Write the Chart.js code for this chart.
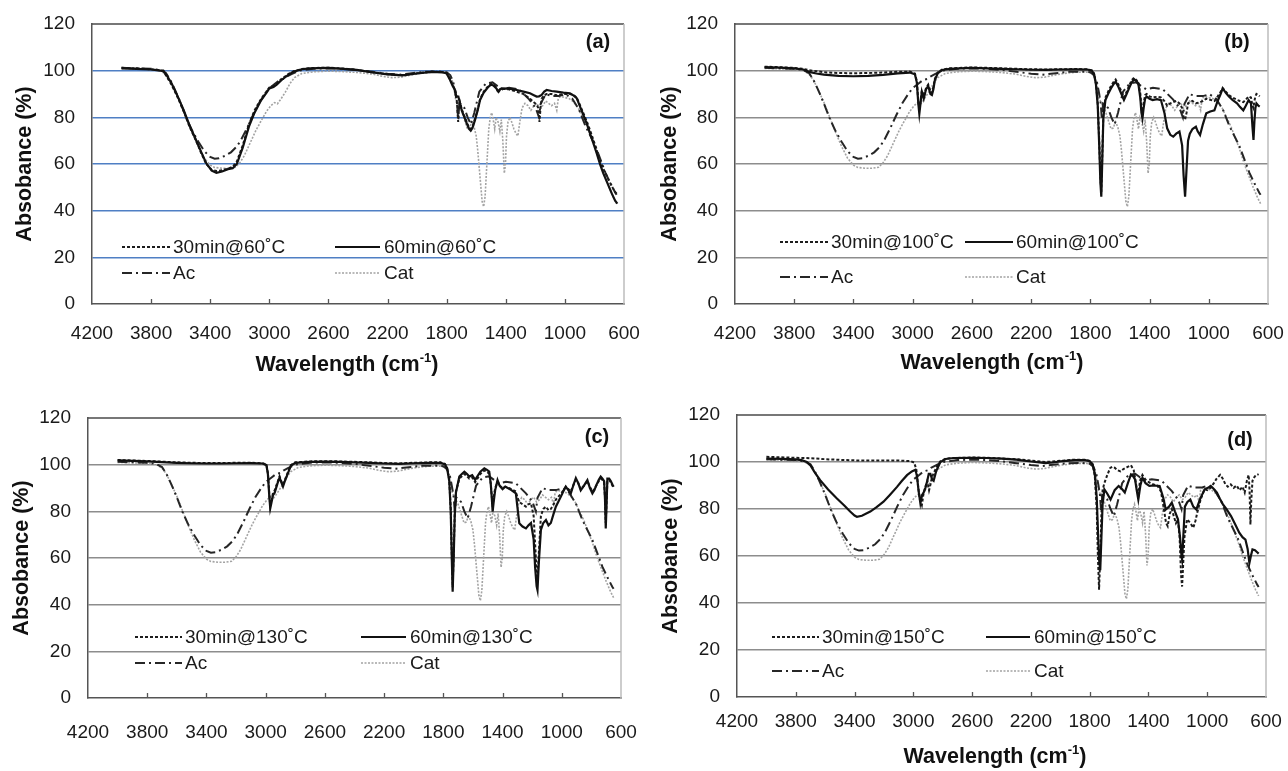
<!DOCTYPE html>
<html><head><meta charset="utf-8">
<script src="https://cdn.jsdelivr.net/npm/chart.js@4.4.1/dist/chart.umd.min.js"></script>
<style>
html,body{margin:0;padding:0;background:#fff;width:1288px;height:771px;overflow:hidden}
.p{position:absolute}
</style></head><body>
<div class="p" style="left:0;top:0;width:644px;height:385px"><canvas id="ca" width="644" height="385"></canvas></div>
<div class="p" style="left:644px;top:0;width:644px;height:385px"><canvas id="cb" width="644" height="385"></canvas></div>
<div class="p" style="left:0;top:385px;width:644px;height:386px"><canvas id="cc" width="644" height="386"></canvas></div>
<div class="p" style="left:644px;top:385px;width:644px;height:386px"><canvas id="cd" width="644" height="386"></canvas></div>
<script>
// ---------- data (wavenumber cm-1, absorbance %) ----------
const X_TICKS = [4200,3800,3400,3000,2600,2200,1800,1400,1000,600];
const Y_TICKS = [0,20,40,60,80,100,120];
const TEMPS = ['60','100','130','150'];
const PANEL_LETTERS = ['(a)','(b)','(c)','(d)'];
const REF_LABELS = ['Ac','Cat'];

const AC = [[4000,101.2],[3900,101],[3800,100.8],[3740,100.3],[3700,99],[3670,96],[3640,92],[3600,86],[3560,79.5],[3520,74],[3480,69.5],[3440,65.5],[3400,63],[3370,62.3],[3340,62.5],[3300,63.5],[3260,65],[3220,67.5],[3190,70.5],[3150,75.5],[3110,81],[3070,86],[3030,90],[3000,92.5],[2960,94.5],[2930,96],[2900,96.5],[2880,97.5],[2850,98.5],[2800,100],[2700,100.8],[2600,101],[2500,100.8],[2400,100.3],[2300,99.5],[2200,98.7],[2120,98.3],[2050,98.8],[1950,99.5],[1850,99.6],[1800,99.3],[1775,98],[1755,95],[1740,90],[1730,86],[1722,79],[1714,86],[1703,85.6],[1680,84],[1658,80],[1636,77],[1613,82],[1579,91],[1535,94.5],[1490,95],[1456,93.4],[1422,92],[1377,92.7],[1310,92],[1242,87.7],[1198,84.1],[1175,80],[1164,85.8],[1130,89.9],[1085,89.1],[1040,89.1],[995,89.9],[950,88],[905,83.4],[861,76.3],[793,67.7],[726,56.3],[690,51.5],[659,47.7],[650,46.8]];

const CAT = [[4000,101],[3900,100.8],[3800,100.5],[3740,100],[3700,98.5],[3670,96],[3640,92],[3600,86.5],[3560,80],[3520,73.5],[3480,67.5],[3440,62.5],[3400,59.5],[3370,58.5],[3320,58.2],[3270,58.2],[3230,58.6],[3200,60.5],[3170,63.5],[3130,69],[3090,74.5],[3060,78],[3020,82.5],[2990,85],[2965,86.3],[2945,85.8],[2920,88],[2890,91],[2860,94.5],[2830,97],[2780,98.8],[2700,99.5],[2600,99.8],[2500,99.6],[2400,99.2],[2300,98.5],[2230,97.5],[2170,97],[2110,97.2],[2050,98],[1980,98.8],[1900,99.3],[1820,99.4],[1790,99],[1770,97.5],[1755,94],[1740,88],[1725,86],[1700,83],[1680,79],[1660,75],[1645,75.5],[1630,78],[1615,76],[1600,72],[1590,66],[1575,55],[1560,44],[1550,41.7],[1540,46],[1528,60],[1515,75],[1505,80],[1495,82],[1485,79],[1475,75],[1465,80],[1452,78],[1440,74],[1430,79],[1420,70],[1410,56],[1402,60],[1395,72],[1385,78],[1372,80],[1360,78],[1345,75],[1330,73],[1318,72],[1305,78],[1290,84],[1270,86],[1250,85],[1230,83],[1210,85],[1190,86],[1170,84],[1150,85],[1130,87],[1110,86],[1090,85],[1070,86],[1055,83],[1045,88],[1030,89],[1000,88.5],[970,88],[940,86.5],[910,84],[880,80],[850,76],[820,71],[790,66],[760,60],[730,55],[700,50],[670,45.5],[650,43]];

const A30 = [[4000,101.2],[3900,101],[3800,100.6],[3740,100.2],[3717,99.8],[3690,97],[3662,94],[3620,88.5],[3579,82.5],[3540,76],[3496,70],[3460,64.5],[3427,60],[3390,57.5],[3358,57],[3320,57.3],[3280,58],[3248,58.8],[3220,61],[3180,68],[3138,77],[3100,83],[3055,88],[3020,91],[3000,92.8],[2972,93.5],[2950,94.5],[2917,96.5],[2870,98.6],[2834,99.8],[2780,100.7],[2724,101.1],[2600,101.3],[2500,100.9],[2400,100.3],[2300,99.3],[2200,98.5],[2100,98.1],[2000,98.9],[1900,99.6],[1830,99.4],[1800,98.9],[1777,96.5],[1760,94],[1744,92],[1735,90],[1728,84],[1722,78],[1716,85],[1710,86.5],[1698,83.5],[1680,80.5],[1664,78],[1650,75.8],[1637,75],[1625,76],[1608,79.5],[1590,83.5],[1574,87.8],[1550,91],[1518,93.5],[1500,94.3],[1484,94],[1465,92.8],[1450,90.5],[1440,91.8],[1428,92.2],[1380,92],[1326,91],[1280,90],[1236,88],[1210,86.5],[1191,85.5],[1180,84],[1172,78],[1165,84],[1157,88],[1140,89.5],[1123,90],[1090,90],[1056,89.5],[1010,90],[966,90],[940,89.5],[920,88.5],[900,85.5],[875,81.8],[850,78],[830,74.5],[808,70.5],[785,66],[760,61],[740,58],[710,54],[683,50.5],[660,48],[645,47]];

const A60 = [[4000,101],[3900,100.8],[3800,100.5],[3740,100],[3717,100],[3690,97.5],[3662,94.6],[3620,89],[3579,83],[3540,76.5],[3496,70.3],[3460,65],[3427,60.3],[3390,57.2],[3358,56.2],[3320,56.8],[3280,57.8],[3248,58.2],[3220,60],[3180,67],[3138,76],[3100,82],[3055,87.4],[3020,90.5],[3000,92.4],[2972,93],[2950,94],[2917,96],[2870,98.3],[2834,99.6],[2780,100.6],[2724,101],[2600,101.2],[2500,100.8],[2400,100.2],[2300,99.2],[2200,98.4],[2100,98],[2000,98.8],[1900,99.5],[1830,99.3],[1800,98.8],[1777,96],[1760,93.5],[1744,91.7],[1735,89],[1721,88.9],[1710,86],[1698,83],[1680,80],[1664,77.4],[1650,75.2],[1637,74.3],[1625,75.5],[1608,78.9],[1590,83],[1574,87.4],[1550,90.5],[1518,93.1],[1500,94],[1484,93.7],[1465,92.5],[1450,91],[1440,92],[1428,92.4],[1380,92.3],[1326,91.7],[1280,91],[1236,90.3],[1210,89.5],[1191,88.9],[1175,89],[1157,89.6],[1140,91],[1123,91.7],[1090,91.3],[1056,91],[1010,90.6],[966,90.3],[940,89.3],[920,88.2],[900,85],[875,81],[850,77],[830,73.1],[808,69],[785,64.6],[760,59.5],[740,56],[710,51.5],[683,47.4],[660,44.3],[645,43]];

const B30 = [[4000,101.7],[3900,101.5],[3800,101.2],[3740,100.8],[3700,100.2],[3650,99.8],[3600,99.3],[3500,99],[3400,98.9],[3300,99],[3200,99.2],[3100,99.5],[3020,99.6],[2985,98.8],[2972,95.5],[2962,87],[2955,83],[2947,87],[2938,91.5],[2925,89],[2910,92.5],[2895,94],[2880,91],[2870,90.5],[2860,93],[2850,96.5],[2830,99.3],[2800,100.5],[2750,101],[2600,101.4],[2500,101.2],[2400,101],[2300,100.8],[2200,100.6],[2100,100.5],[2000,100.6],[1900,100.7],[1820,100.6],[1790,100.1],[1775,98.8],[1762,94.5],[1750,86],[1740,70],[1732,55],[1726,48],[1720,62],[1712,81],[1698,88.5],[1680,91],[1660,93.5],[1645,95],[1629,96.2],[1610,94],[1590,91],[1573,88.5],[1555,91],[1535,94],[1520,96],[1504,97],[1490,96],[1476,95],[1462,90],[1455,84],[1448,81.5],[1440,86],[1430,89.5],[1420,90],[1400,89],[1379,88.5],[1350,88.8],[1323,88.5],[1300,87],[1281,85],[1260,86],[1240,86.5],[1220,87],[1198,86],[1180,84],[1170,80],[1160,79],[1150,82],[1140,86],[1128,86.5],[1110,87],[1087,86],[1059,86.5],[1040,87],[1017,88],[990,87.5],[962,87],[940,89],[920,91],[906,92.5],[885,91],[864,89.5],[840,88.5],[809,87.5],[790,87],[767,86.5],[750,87.5],[731,89],[715,88.5],[705,85],[698,84],[692,87],[685,89],[678,90],[665,89.5],[656,89]];

const B60 = [[4000,101.5],[3900,101.3],[3800,101],[3740,100.5],[3700,99.5],[3650,98.8],[3600,98.3],[3500,97.8],[3400,97.6],[3300,97.8],[3200,98.2],[3100,98.8],[3020,99.2],[2985,98.5],[2972,95],[2962,86],[2955,81.5],[2947,86],[2938,91],[2925,88],[2910,92],[2895,93.5],[2880,90],[2870,89.6],[2860,92],[2850,96],[2830,99],[2800,100.3],[2750,100.8],[2600,101.2],[2500,101],[2400,100.8],[2300,100.6],[2200,100.4],[2100,100.3],[2000,100.5],[1900,100.6],[1820,100.5],[1790,100],[1775,98.5],[1762,94],[1750,85],[1740,68],[1732,52],[1726,46],[1720,60],[1712,80],[1698,87.4],[1680,90],[1660,92.5],[1645,94],[1629,95.3],[1610,93],[1590,90],[1573,87.4],[1555,90],[1535,93],[1520,95],[1504,96.3],[1490,95.5],[1476,94.6],[1462,88],[1455,82],[1448,79.6],[1440,84],[1430,88],[1420,88.9],[1400,88],[1379,87.4],[1350,87.8],[1323,87.4],[1300,82],[1281,75.3],[1260,72.5],[1240,71.7],[1220,73],[1198,73.9],[1180,68],[1170,55],[1160,46],[1150,58],[1140,70],[1128,73],[1110,75],[1087,76],[1075,74],[1059,72.4],[1040,77],[1017,81.7],[990,82.5],[962,83],[940,87],[920,90],[906,92.4],[885,90.5],[864,88.9],[840,87.5],[809,86],[790,84.5],[767,83],[750,85],[731,87.4],[715,86],[705,76],[698,70.3],[692,78],[685,84],[678,86],[665,85],[656,84.6]];

const C30 = [[4000,102],[3900,101.8],[3800,101.6],[3700,101.3],[3600,101],[3500,100.8],[3400,100.7],[3300,100.7],[3200,100.8],[3100,100.8],[3020,100.6],[2995,100],[2985,96.5],[2975,87],[2969,82.5],[2960,85],[2950,88],[2939,89],[2920,92.5],[2906,95],[2895,93],[2883,91.5],[2870,93.5],[2850,96.8],[2830,99.8],[2800,101],[2700,101.4],[2600,101.5],[2500,101.4],[2400,101.2],[2300,101],[2200,100.7],[2100,100.5],[2000,100.8],[1900,101],[1820,101],[1790,100.4],[1775,98.8],[1760,93.5],[1750,81],[1743,62],[1737,47.5],[1730,62],[1723,79],[1715,88.5],[1700,92],[1692,94],[1675,95],[1658,96],[1640,95],[1625,94],[1605,94.5],[1585,92.5],[1570,94],[1550,96],[1523,97.5],[1505,97],[1490,96],[1480,92],[1472,86],[1467,82],[1460,86],[1450,90],[1434,92.5],[1420,91],[1400,90],[1382,90.5],[1350,89.8],[1310,88.5],[1300,86],[1287,84],[1265,83],[1242,82],[1225,83],[1208,83.5],[1190,78],[1180,66],[1170,54],[1164,51],[1155,62],[1141,78],[1125,81],[1107,82],[1090,80.5],[1074,81],[1055,83],[1040,85],[1020,86.5],[1006,87.5],[990,89],[973,90.5],[955,89.5],[939,88.5],[920,91.5],[905,93.5],[888,92],[872,89.5],[850,91],[827,93],[810,90.5],[793,88.5],[780,89.5],[771,90.5],[750,93],[737,94],[725,93.5],[714,92.5],[708,86],[703,75],[698,83],[692,93],[680,93.5],[669,92.5],[658,91],[650,90]];

const C60 = [[4000,101.8],[3900,101.6],[3800,101.4],[3700,101.1],[3600,100.8],[3500,100.6],[3400,100.5],[3300,100.5],[3200,100.6],[3100,100.7],[3020,100.5],[2995,99.8],[2985,96],[2975,86],[2969,81.3],[2960,84],[2950,87],[2939,88],[2920,92],[2906,94.5],[2895,92.5],[2883,90.6],[2870,93],[2850,96.3],[2830,99.5],[2800,100.8],[2700,101.2],[2600,101.3],[2500,101.2],[2400,101],[2300,100.8],[2200,100.5],[2100,100.3],[2000,100.6],[1900,100.8],[1820,100.8],[1790,100.2],[1775,98.5],[1760,93],[1750,80],[1743,60],[1737,45.6],[1730,60],[1723,78],[1715,88],[1700,92.5],[1692,94.9],[1675,96],[1658,97],[1640,96],[1625,94.9],[1605,95.5],[1585,93.5],[1570,95],[1550,97],[1523,98.4],[1505,97.8],[1490,97],[1480,92],[1472,85],[1467,79.9],[1460,84],[1450,89],[1434,93.4],[1420,91],[1400,89.5],[1382,90.6],[1350,89.5],[1310,87.7],[1300,82],[1287,74.9],[1265,73.5],[1242,72.7],[1225,74],[1208,75],[1190,68],[1180,56],[1170,48],[1164,46.3],[1155,58],[1141,72],[1125,75],[1107,76.3],[1090,74],[1074,75],[1055,79],[1040,82],[1020,84.5],[1006,86.3],[990,88.5],[973,90.6],[955,89],[939,87.7],[920,91.5],[905,94.2],[888,92],[872,89],[850,91],[827,93.4],[810,90],[793,87.7],[780,89],[771,90.6],[750,93.5],[737,94.9],[725,94],[714,93],[708,85],[703,72.7],[698,82],[692,94],[680,94],[669,93],[658,91.5],[650,90.5]];

const D30 = [[4000,102.2],[3900,102],[3800,101.8],[3700,101.6],[3600,101.2],[3500,100.9],[3400,100.7],[3300,100.6],[3200,100.6],[3100,100.6],[3020,100.4],[2995,99.8],[2980,97],[2968,90],[2955,84],[2942,81.7],[2932,86],[2920,89],[2905,92],[2893,88],[2885,90],[2870,94],[2845,97.5],[2816,100.3],[2780,101.4],[2725,101.7],[2600,101.9],[2500,101.8],[2400,101.5],[2300,101.2],[2200,100.6],[2100,100],[2000,100.5],[1900,101],[1830,101],[1800,100.5],[1780,99],[1765,94],[1752,80],[1744,60],[1736,45.7],[1728,60],[1720,78],[1712,88],[1700,91],[1680,94.5],[1660,97.5],[1645,98],[1630,97.6],[1610,96.5],[1590,96],[1570,97],[1545,97.8],[1519,98.6],[1500,96.5],[1488,92],[1478,88],[1468,86],[1458,92],[1441,94.5],[1420,92.5],[1400,91.5],[1370,90.5],[1340,90],[1315,87.5],[1295,80],[1280,74],[1269,72.7],[1255,78],[1241,80],[1228,77],[1213,74],[1200,75.5],[1188,68],[1178,52],[1171,47],[1164,56],[1155,68],[1137,75.6],[1115,74],[1095,72],[1080,75],[1068,78.4],[1045,84],[1018,88.4],[1000,88],[976,89],[955,91],[935,93],[912,94.5],[895,93],[876,90.5],[860,89.5],[840,90.5],[820,89],[800,90],[780,88],[760,89.5],[745,87],[730,92],[718,94.5],[712,88],[706,73.4],[700,84],[692,92],[680,93.5],[668,94.5],[656,94.7],[650,94.5]];

const D60 = [[4000,101.5],[3900,101.3],[3800,101.1],[3760,100.8],[3725,100],[3700,98.5],[3670,95.5],[3634,92.3],[3580,88.3],[3520,84.5],[3470,81.5],[3430,78.9],[3400,77.2],[3384,76.7],[3350,77.1],[3293,78.9],[3250,80.8],[3203,83.1],[3160,86],[3111,89.4],[3080,91.8],[3043,94.4],[3010,96],[2986,96.7],[2975,94],[2965,88],[2952,82.4],[2940,86],[2930,87],[2918,89],[2905,92],[2895,95],[2884,95],[2872,92.5],[2862,92],[2845,96],[2816,100],[2780,101.3],[2725,101.7],[2600,101.8],[2500,101.7],[2400,101.4],[2300,101],[2200,100.2],[2100,99.5],[2050,99.8],[2000,100.3],[1900,100.8],[1830,100.8],[1800,100.3],[1780,99],[1765,95],[1752,85],[1742,68],[1735,58],[1728,54],[1720,68],[1712,82],[1700,88.4],[1680,86.5],[1658,84],[1630,88],[1603,89.8],[1580,88.5],[1561,87],[1540,91],[1519,94.7],[1505,94],[1491,92.6],[1480,88],[1469,84],[1455,90],[1441,93.3],[1420,91],[1394,89.8],[1360,90],[1324,89.8],[1300,85],[1282,79.8],[1260,81],[1241,82.7],[1220,79],[1199,75.6],[1185,68],[1175,60],[1171,58.5],[1163,68],[1152,81],[1135,83],[1115,84],[1095,81],[1074,79.8],[1050,84],[1018,88.4],[995,89],[976,89.8],[955,88.5],[934,87],[915,84.5],[893,82],[870,80],[838,77],[810,73.5],[782,69.9],[760,68],[740,67],[725,63],[713,57],[703,60],[692,62.8],[675,62.5],[660,61.6],[650,61]];

// ---------- rendering ----------
const FONT = "'Liberation Sans', Arial, Helvetica, sans-serif";
Chart.defaults.font.family = FONT;

const STYLES = [
  {color:'#1c1c1c', width:2.0, dash:[3,2], order:2},      // 30 min
  {color:'#111111', width:2.2, dash:[],    order:1},      // 60 min
  {color:'#262626', width:2.0, dash:[10,4,2,4], order:3}, // Ac
  {color:'#a3a3a3', width:1.6, dash:[2,1.5], order:4}     // Cat
];

const PANELS = [
  {id:'ca', s30:A30, s60:A60, temp:TEMPS[0], letter:PANEL_LETTERS[0], grid:'#4f7fc4',
   yw:92, pt:24, pr:20, xh:81, xpad:18, xTitle:[347,365], ytp:12, lx:598, ly:42,
   leg:{r1:247, r2:273, c1:[122,170,173], c2:[335,380,384]}},
  {id:'cb', s30:B30, s60:B60, temp:TEMPS[1], letter:PANEL_LETTERS[1], grid:'#8d8d8d',
   yw:91, pt:24, pr:20, xh:81, xpad:18, xTitle:[348,363], ytp:13, lx:593, ly:42,
   leg:{r1:242, r2:277, c1:[136,184,187], c2:[321,369,372]}},
  {id:'cc', s30:C30, s60:C60, temp:TEMPS[2], letter:PANEL_LETTERS[2], grid:'#8d8d8d',
   yw:88, pt:33, pr:23, xh:73, xpad:23, xTitle:null, ytp:9, lx:597, ly:52,
   leg:{r1:252, r2:278, c1:[135,182,185], c2:[361,406,410]}},
  {id:'cd', s30:D30, s60:D60, temp:TEMPS[3], letter:PANEL_LETTERS[3], grid:'#8d8d8d',
   yw:93, pt:30, pr:22, xh:74, xpad:13, xTitle:[351,372], ytp:14, lx:596, ly:55,
   leg:{r1:252, r2:286, c1:[128,175,178], c2:[342,386,390]}}
];

const toPts = arr => arr.map(p => ({x:p[0], y:p[1]}));

const decorPlugin = {
  id:'decor',
  afterDraw(chart) {
    const cfg = chart.options.plugins.decor;
    const ctx = chart.ctx, a = chart.chartArea, xs = chart.scales.x;
    ctx.save();
    ctx.lineWidth = 1.5;
    ctx.strokeStyle = '#4a4a4a';
    ctx.beginPath(); ctx.moveTo(a.left, a.top); ctx.lineTo(a.right, a.top); ctx.stroke();
    ctx.strokeStyle = '#bdbdbd';
    ctx.beginPath(); ctx.moveTo(a.right, a.top); ctx.lineTo(a.right, a.bottom); ctx.stroke();
    ctx.strokeStyle = '#555';
    ctx.lineWidth = 1.3;
    X_TICKS.slice(1, -1).forEach(v => {
      const px = Math.round(xs.getPixelForValue(v)) + 0.5;
      ctx.beginPath(); ctx.moveTo(px, a.bottom); ctx.lineTo(px, a.bottom - 5); ctx.stroke();
    });
    // panel letter
    ctx.fillStyle = '#111';
    ctx.font = 'bold 20px ' + FONT;
    ctx.textAlign = 'center'; ctx.textBaseline = 'middle';
    ctx.fillText(cfg.letter, cfg.lx, cfg.ly);
    // x-axis title with superscript
    if (cfg.xTitle) {
      const [cx, cy] = cfg.xTitle;
      const main = 'Wavelength (cm', sup = '-1', end = ')';
      const fMain = 'bold 21.5px ' + FONT, fSup = 'bold 13px ' + FONT;
      ctx.font = fMain; const w1 = ctx.measureText(main).width, w3 = ctx.measureText(end).width;
      ctx.font = fSup; const w2 = ctx.measureText(sup).width;
      let x = cx - (w1 + w2 + w3) / 2;
      ctx.textAlign = 'left';
      ctx.font = fMain; ctx.fillText(main, x, cy); x += w1;
      ctx.font = fSup; ctx.fillText(sup, x, cy - 7); x += w2;
      ctx.font = fMain; ctx.fillText(end, x, cy);
    }
    // legend
    const L = cfg.leg;
    const slots = [[L.c1, L.r1],[L.c2, L.r1],[L.c1, L.r2],[L.c2, L.r2]];
    ctx.font = '19px ' + FONT;
    ctx.textAlign = 'left';
    chart.data.datasets.forEach((ds, i) => {
      const [c, y] = slots[i];
      ctx.strokeStyle = ds.borderColor;
      ctx.lineWidth = ds.borderWidth;
      ctx.setLineDash(ds.borderDash || []);
      ctx.beginPath(); ctx.moveTo(c[0], y); ctx.lineTo(c[1], y); ctx.stroke();
      ctx.setLineDash([]);
      ctx.fillStyle = '#1a1a1a';
      ctx.fillText(ds.label, c[2], y + 1);
    });
    ctx.restore();
  }
};

PANELS.forEach(P => {
  const labels = ['30min@' + P.temp + '˚C', '60min@' + P.temp + '˚C', REF_LABELS[0], REF_LABELS[1]];
  const series = [P.s30, P.s60, AC, CAT];
  const datasets = series.map((s, i) => ({
    label: labels[i],
    data: toPts(s),
    borderColor: STYLES[i].color,
    borderWidth: STYLES[i].width,
    borderDash: STYLES[i].dash,
    order: STYLES[i].order,
    pointRadius: 0,
    tension: 0,
    fill: false
  }));
  new Chart(document.getElementById(P.id), {
    type:'line',
    data:{datasets},
    plugins:[decorPlugin],
    options:{
      responsive:false,
      animation:false,
      devicePixelRatio:1,
      layout:{autoPadding:false, padding:{left:0, top:P.pt, right:P.pr, bottom:0}},
      plugins:{
        legend:{display:false},
        tooltip:{enabled:false},
        decor:{letter:P.letter, lx:P.lx, ly:P.ly, leg:P.leg, xTitle:P.xTitle}
      },
      scales:{
        x:{
          type:'linear', reverse:true, min:600, max:4200,
          afterBuildTicks: s => { s.ticks = X_TICKS.map(v => ({value:v})); },
          afterFit: s => { s.height = P.xh; s.paddingLeft = 0; s.paddingRight = 0; s.paddingTop = 0; s.paddingBottom = 0; },
          grid:{display:false, drawTicks:false},
          border:{display:true, color:'#555', width:1.5},
          ticks:{padding:P.xpad, color:'#1a1a1a', font:{family:FONT, size:19}, maxRotation:0, autoSkip:false,
                 callback: v => String(v)},
          title:{display:false}
        },
        y:{
          min:0, max:120,
          afterBuildTicks: s => { s.ticks = Y_TICKS.map(v => ({value:v})); },
          afterFit: s => { s.width = P.yw; s.paddingLeft = 0; s.paddingRight = 0; s.paddingTop = 0; s.paddingBottom = 0; },
          grid:{color: c => (c.tick && c.tick.value > 0 && c.tick.value < 120) ? P.grid : 'rgba(0,0,0,0)',
                lineWidth:1.5, drawTicks:false},
          border:{display:true, color:'#555', width:1.5},
          ticks:{padding:17, color:'#1a1a1a', font:{family:FONT, size:19}, callback: v => String(v)},
          title:{display:true, text:'Absobance (%)', color:'#111',
                 font:{family:FONT, size:21.5, weight:'bold'}, padding:{top:P.ytp, bottom:0}}
        }
      }
    }
  });
});
</script>
</body></html>
